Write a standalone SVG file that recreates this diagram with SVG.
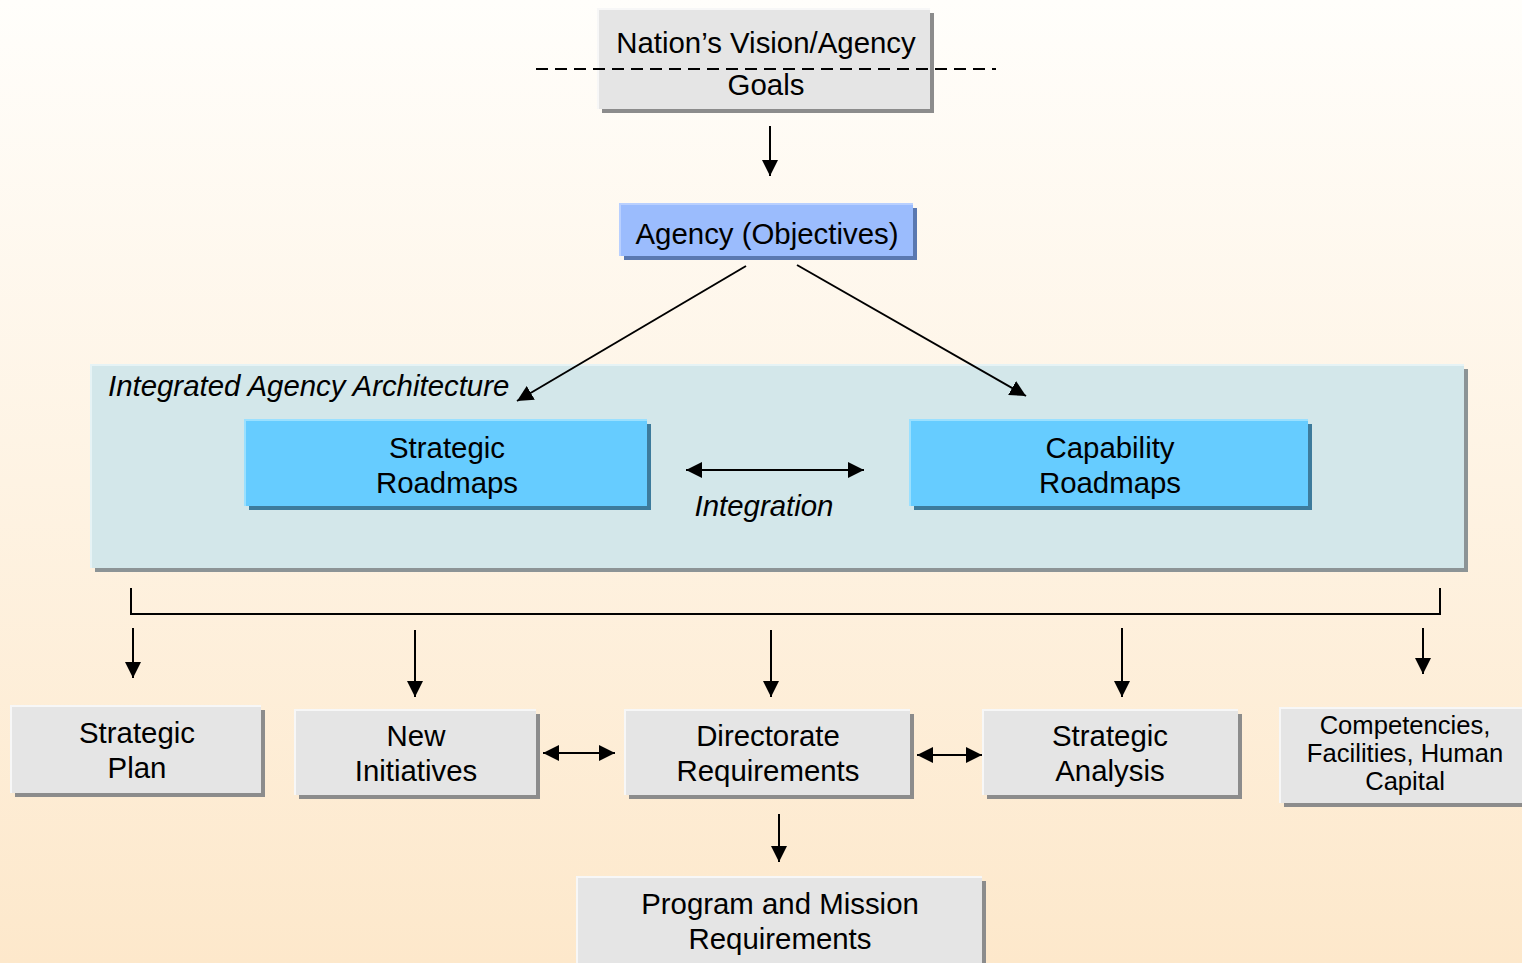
<svg xmlns="http://www.w3.org/2000/svg" width="1522" height="963" viewBox="0 0 1522 963">
<defs>
<linearGradient id="bg" x1="0" y1="0" x2="0" y2="1">
<stop offset="0" stop-color="#fffefb"/>
<stop offset="1" stop-color="#fde8cb"/>
</linearGradient>
<marker id="ah" viewBox="0 0 10 10" refX="10" refY="5" markerWidth="16" markerHeight="16" markerUnits="userSpaceOnUse" orient="auto-start-reverse">
<path d="M0,0 L10,5 L0,10 z" fill="#000"/>
</marker>
</defs>
<style>
text{font-family:"Liberation Sans",Arial,sans-serif;font-size:29.4px;fill:#000;text-anchor:middle}
.sm{font-size:25.6px}
.it{font-style:italic}
.gray{fill:#e5e5e5}
.gsh{fill:#8c8c8c}
.ghl{fill:none;stroke:#f7f7f7;stroke-width:2}
.blue{fill:#9bbcfd}
.bsh{fill:#5a78b0}
.cyan{fill:#66ccff}
.csh{fill:#3d7b9c}
.chl{fill:none;stroke:#9ae0ff;stroke-width:2}
.teal{fill:#d3e7ea}
.tsh{fill:#8c9496}
.conn line,.conn path{stroke:#000;stroke-width:2;fill:none}
</style>
<rect x="0" y="0" width="1522" height="963" fill="url(#bg)"/>

<g id="arch">
<rect x="95" y="369" width="1373" height="203" class="tsh"/>
<rect x="91" y="365" width="1373" height="203" class="teal"/>
<path d="M91,568 V365 H1464" fill="none" stroke="#e6f3f5" stroke-width="2"/>
<text x="108" y="396" class="it" style="text-anchor:start">Integrated Agency Architecture</text>
</g>

<g id="nation">
<rect x="602" y="13" width="332" height="100" class="gsh"/>
<rect x="598" y="9" width="332" height="100" class="gray"/>
<path d="M598,109 V9 H930" class="ghl"/>
<text x="766" y="53">Nation’s Vision/Agency</text>
<text x="766" y="95">Goals</text>
<line x1="536" y1="69" x2="996" y2="69" stroke="#000" stroke-width="2" stroke-dasharray="12,7"/>
</g>

<g id="agency">
<rect x="624" y="208" width="293" height="52" class="bsh"/>
<rect x="620" y="204" width="293" height="52" class="blue"/>
<path d="M620,256 V204 H913" fill="none" stroke="#b9d0ff" stroke-width="2"/>
<text x="767" y="244">Agency (Objectives)</text>
</g>

<g id="strategic-roadmaps">
<rect x="249" y="424" width="402" height="86" class="csh"/>
<rect x="245" y="420" width="402" height="86" class="cyan"/>
<path d="M245,506 V420 H647" class="chl"/>
<text x="447" y="458">Strategic</text>
<text x="447" y="493">Roadmaps</text>
</g>

<g id="capability-roadmaps">
<rect x="914" y="424" width="398" height="86" class="csh"/>
<rect x="910" y="420" width="398" height="86" class="cyan"/>
<path d="M910,506 V420 H1308" class="chl"/>
<text x="1110" y="458">Capability</text>
<text x="1110" y="493">Roadmaps</text>
</g>

<g id="integration-label">
<text x="764" y="516" class="it">Integration</text>
</g>

<g id="strategic-plan">
<rect x="15" y="710" width="250" height="87" class="gsh"/>
<rect x="11" y="706" width="250" height="87" class="gray"/>
<path d="M11,793 V706 H261" class="ghl"/>
<text x="137" y="743">Strategic</text>
<text x="137" y="778">Plan</text>
</g>

<g id="new-initiatives">
<rect x="299" y="714" width="241" height="85" class="gsh"/>
<rect x="295" y="710" width="241" height="85" class="gray"/>
<path d="M295,795 V710 H536" class="ghl"/>
<text x="416" y="746">New</text>
<text x="416" y="781">Initiatives</text>
</g>

<g id="directorate">
<rect x="629" y="714" width="285" height="85" class="gsh"/>
<rect x="625" y="710" width="285" height="85" class="gray"/>
<path d="M625,795 V710 H910" class="ghl"/>
<text x="768" y="746">Directorate</text>
<text x="768" y="781">Requirements</text>
</g>

<g id="strategic-analysis">
<rect x="987" y="714" width="255" height="85" class="gsh"/>
<rect x="983" y="710" width="255" height="85" class="gray"/>
<path d="M983,795 V710 H1238" class="ghl"/>
<text x="1110" y="746">Strategic</text>
<text x="1110" y="781">Analysis</text>
</g>

<g id="competencies">
<rect x="1284" y="712" width="242" height="95" class="gsh"/>
<rect x="1280" y="708" width="246" height="95" class="gray"/>
<path d="M1280,803 V708 H1522" class="ghl"/>
<text x="1405" y="734" class="sm">Competencies,</text>
<text x="1405" y="762" class="sm">Facilities, Human</text>
<text x="1405" y="790" class="sm">Capital</text>
</g>

<g id="program-mission">
<rect x="581" y="881" width="405" height="90" class="gsh"/>
<rect x="577" y="877" width="405" height="90" class="gray"/>
<path d="M577,967 V877 H982" class="ghl"/>
<text x="780" y="914">Program and Mission</text>
<text x="780" y="949">Requirements</text>
</g>

<g id="connectors" class="conn">
<line x1="770" y1="126" x2="770" y2="176" marker-end="url(#ah)"/>
<line x1="746" y1="266" x2="517" y2="401" marker-end="url(#ah)"/>
<line x1="797" y1="265" x2="1026" y2="396" marker-end="url(#ah)"/>
<line x1="686" y1="470" x2="864" y2="470" marker-start="url(#ah)" marker-end="url(#ah)"/>
<path d="M131,588 V614 H1440 V588"/>
<line x1="133" y1="628" x2="133" y2="678" marker-end="url(#ah)"/>
<line x1="415" y1="630" x2="415" y2="697" marker-end="url(#ah)"/>
<line x1="771" y1="630" x2="771" y2="697" marker-end="url(#ah)"/>
<line x1="1122" y1="628" x2="1122" y2="697" marker-end="url(#ah)"/>
<line x1="1423" y1="628" x2="1423" y2="674" marker-end="url(#ah)"/>
<line x1="543" y1="753" x2="615" y2="753" marker-start="url(#ah)" marker-end="url(#ah)"/>
<line x1="917" y1="755" x2="982" y2="755" marker-start="url(#ah)" marker-end="url(#ah)"/>
<line x1="779" y1="814" x2="779" y2="862" marker-end="url(#ah)"/>
</g>
</svg>
